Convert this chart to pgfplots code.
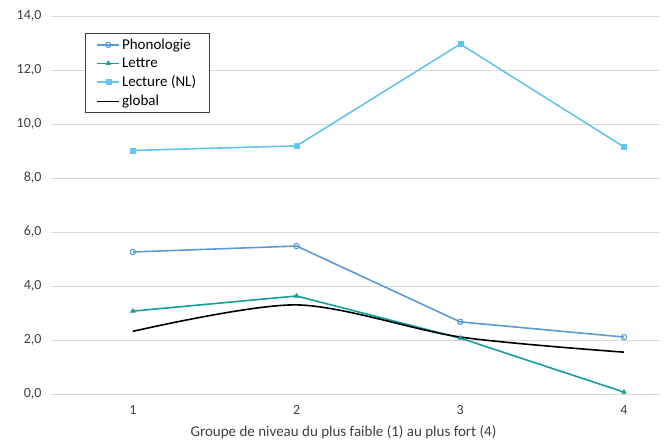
\documentclass[border=0pt]{standalone}
\usepackage{pgfplots}
\pgfplotsset{compat=1.18}
\usepackage{fontspec}
\setmainfont{Carlito}
\definecolor{phon}{HTML}{5B9BD5}
\definecolor{lett}{HTML}{14A09A}
\definecolor{lect}{HTML}{62C6EE}
\definecolor{gridc}{HTML}{D9D9D9}
\definecolor{txt}{HTML}{404040}
\begin{document}
\begin{tikzpicture}
\useasboundingbox (-51pt,-48pt) rectangle (615pt,394pt);
\begin{axis}[
  scale only axis,
  width=609pt, height=378pt,
  xmin=0.5, xmax=4.22,
  ymin=0, ymax=14,
  xtick={1,2,3,4},
  ytick={0,2,...,14},
  axis line style={draw=none},
  major tick style={draw=none},
  ymajorgrids, xmajorgrids=false,
  grid style={draw=gridc, line width=0.8pt},
  /pgf/number format/assume math mode=true,
  yticklabel={\pgfmathprintnumber[fixed,fixed zerofill,precision=1,use comma]{\tick}},
  yticklabel style={font=\fontsize{14}{16}\selectfont, text=txt, xshift=-6pt},
  xticklabel style={font=\fontsize{14}{16}\selectfont, text=txt, yshift=-8pt},
  xlabel={Groupe de niveau du plus faible (1) au plus fort (4)},
  xlabel style={font=\fontsize{15}{17}\selectfont, text=txt, yshift=-4pt, xshift=-12pt},
  legend style={at={(0.056,0.955)}, anchor=north west, draw=txt, line width=0.8pt,
    font=\fontsize{15}{17}\selectfont, row sep=3pt, inner xsep=11pt, inner ysep=3.5pt,
    cells={anchor=west}},
  legend image code/.code={\draw[#1, line width=1.6pt] (0pt,0pt) -- (22pt,0pt); \path[#1, only marks] plot coordinates {(11pt,0pt)};},
  every axis plot/.append style={line width=1.6pt},
]
\addplot[phon, mark=o, mark size=2.7pt, mark options={fill=white, line width=1.1pt}] coordinates {(1,5.26) (2,5.48) (3,2.67) (4,2.11)};
\addlegendentry{Phonologie}
\addplot[lett, mark=triangle*, mark size=2.7pt, mark options={line width=0.5pt}] coordinates {(1,3.07) (2,3.63) (3,2.07) (4,0.07)};
\addlegendentry{Lettre}
\addplot[lect, mark=square*, mark size=2.5pt, mark options={line width=0.5pt}] coordinates {(1,9.02) (2,9.19) (3,12.96) (4,9.15)};
\addlegendentry{Lecture (NL)}
\addplot[black, smooth, tension=0.5] coordinates {(1,2.32) (2,3.30) (3,2.11) (4,1.55)};
\addlegendentry{global}
\end{axis}
\end{tikzpicture}
\end{document}
